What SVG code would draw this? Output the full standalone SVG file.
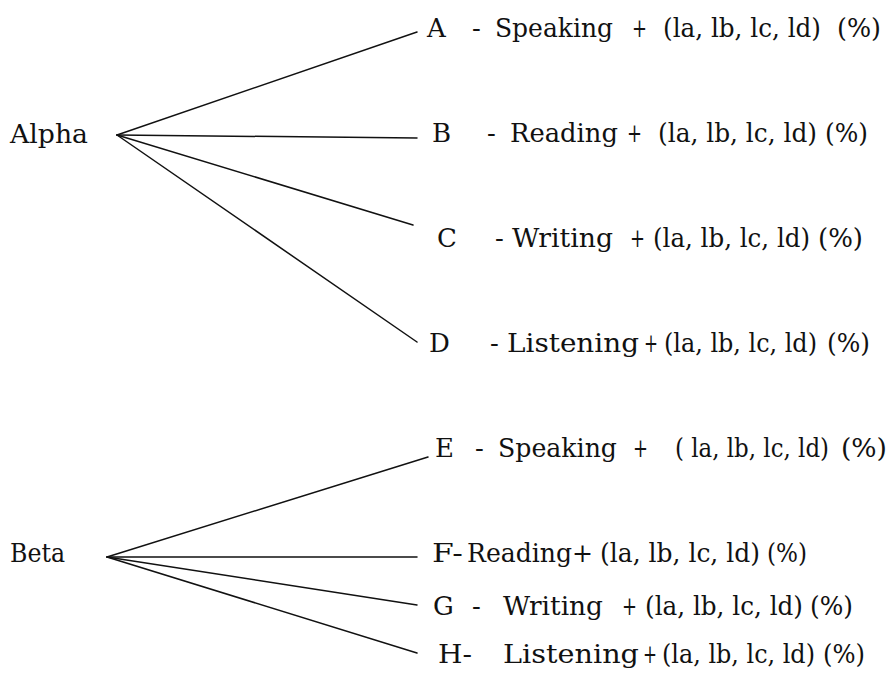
<svg xmlns="http://www.w3.org/2000/svg" width="893" height="673" viewBox="0 0 893 673">
  <style>
    text { font-family: "DejaVu Serif", "Liberation Serif", "Noto Serif", serif; font-size: 26px; fill: #111; }
    .edge { stroke: #111; stroke-width: 1.5; fill: none; stroke-linecap: round; }
  </style>
  <rect width="893" height="673" fill="#fff"/>

  <!-- connectors: each root fans out to its four skills -->
  <g id="connectors">
    <line class="edge" x1="117" y1="135" x2="417" y2="32"/>
    <line class="edge" x1="117" y1="135" x2="417" y2="138"/>
    <line class="edge" x1="117" y1="135" x2="413" y2="225"/>
    <line class="edge" x1="117" y1="135" x2="417" y2="342"/>
    <line class="edge" x1="107" y1="557" x2="428" y2="457"/>
    <line class="edge" x1="107" y1="557" x2="417" y2="557"/>
    <line class="edge" x1="107" y1="557" x2="417" y2="605"/>
    <line class="edge" x1="107" y1="557" x2="417" y2="653"/>
  </g>

  <!-- root nodes -->
  <g id="alpha"><text x="10" y="143" textLength="78" lengthAdjust="spacingAndGlyphs">Alpha</text></g>
  <g id="beta"><text x="10" y="562" textLength="55" lengthAdjust="spacingAndGlyphs">Beta</text></g>

  <!-- leaf nodes -->
  <g id="node-a">
    <text y="37"><tspan x="427">A</tspan><tspan x="472">-</tspan><tspan x="495" textLength="118" lengthAdjust="spacingAndGlyphs">Speaking</tspan><tspan x="632" textLength="15" lengthAdjust="spacingAndGlyphs">+</tspan><tspan x="663" textLength="158" lengthAdjust="spacingAndGlyphs">(la, lb, lc, ld)</tspan><tspan x="837" textLength="44" lengthAdjust="spacingAndGlyphs">(%)</tspan></text>
  </g>
  <g id="node-b">
    <text y="142"><tspan x="432">B</tspan><tspan x="487">-</tspan><tspan x="510" textLength="108" lengthAdjust="spacingAndGlyphs">Reading</tspan><tspan x="627" textLength="15" lengthAdjust="spacingAndGlyphs">+</tspan><tspan x="658" textLength="159" lengthAdjust="spacingAndGlyphs">(la, lb, lc, ld)</tspan><tspan x="825" textLength="43" lengthAdjust="spacingAndGlyphs">(%)</tspan></text>
  </g>
  <g id="node-c">
    <text y="247"><tspan x="437">C</tspan><tspan x="495">-</tspan><tspan x="512" textLength="101" lengthAdjust="spacingAndGlyphs">Writing</tspan><tspan x="630" textLength="15" lengthAdjust="spacingAndGlyphs">+</tspan><tspan x="653" textLength="157" lengthAdjust="spacingAndGlyphs">(la, lb, lc, ld)</tspan><tspan x="818" textLength="45" lengthAdjust="spacingAndGlyphs">(%)</tspan></text>
  </g>
  <g id="node-d">
    <text y="352"><tspan x="429">D</tspan><tspan x="490">-</tspan><tspan x="507" textLength="132" lengthAdjust="spacingAndGlyphs">Listening</tspan><tspan x="644" textLength="14" lengthAdjust="spacingAndGlyphs">+</tspan><tspan x="664" textLength="153" lengthAdjust="spacingAndGlyphs">(la, lb, lc, ld)</tspan><tspan x="827" textLength="43" lengthAdjust="spacingAndGlyphs">(%)</tspan></text>
  </g>
  <g id="node-e">
    <text y="457"><tspan x="435">E</tspan><tspan x="475">-</tspan><tspan x="498" textLength="119" lengthAdjust="spacingAndGlyphs">Speaking</tspan><tspan x="633" textLength="15" lengthAdjust="spacingAndGlyphs">+</tspan><tspan x="675" textLength="154" lengthAdjust="spacingAndGlyphs">( la, lb, lc, ld)</tspan><tspan x="841" textLength="46" lengthAdjust="spacingAndGlyphs">(%)</tspan></text>
  </g>
  <g id="node-f">
    <text y="562"><tspan x="432" textLength="31" lengthAdjust="spacingAndGlyphs">F-</tspan><tspan x="467" textLength="126" lengthAdjust="spacingAndGlyphs">Reading+</tspan><tspan x="600" textLength="160" lengthAdjust="spacingAndGlyphs">(la, lb, lc, ld)</tspan><tspan x="767" textLength="40" lengthAdjust="spacingAndGlyphs">(%)</tspan></text>
  </g>
  <g id="node-g">
    <text y="615"><tspan x="433">G</tspan><tspan x="472">-</tspan><tspan x="503" textLength="100" lengthAdjust="spacingAndGlyphs">Writing</tspan><tspan x="622" textLength="15" lengthAdjust="spacingAndGlyphs">+</tspan><tspan x="645" textLength="158" lengthAdjust="spacingAndGlyphs">(la, lb, lc, ld)</tspan><tspan x="810" textLength="43" lengthAdjust="spacingAndGlyphs">(%)</tspan></text>
  </g>
  <g id="node-h">
    <text y="663"><tspan x="438" textLength="34" lengthAdjust="spacingAndGlyphs">H-</tspan><tspan x="503" textLength="136" lengthAdjust="spacingAndGlyphs">Listening</tspan><tspan x="643" textLength="14" lengthAdjust="spacingAndGlyphs">+</tspan><tspan x="662" textLength="153" lengthAdjust="spacingAndGlyphs">(la, lb, lc, ld)</tspan><tspan x="823" textLength="42" lengthAdjust="spacingAndGlyphs">(%)</tspan></text>
  </g>
</svg>
